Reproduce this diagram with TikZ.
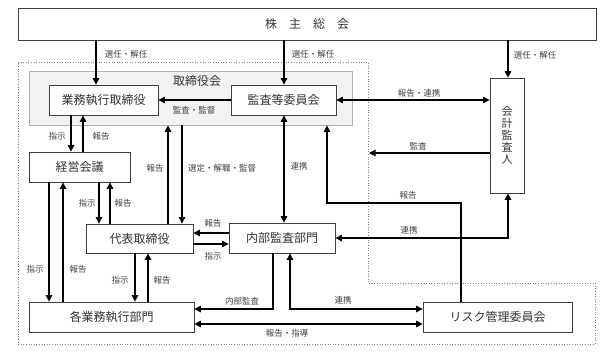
\documentclass[tikz,border=0pt]{standalone}
\usepackage{fontspec}
\setmainfont{Noto Sans CJK JP}
\usetikzlibrary{arrows.meta}

\begin{document}
\begin{tikzpicture}[
    x=1pt, y=-1pt,
    box/.style={
        rectangle,
        draw=black!75,
        line width=0.8pt,
        fill=white,
        minimum height=30pt,
        inner sep=0pt,
        font=\fontsize{12}{14}\selectfont,
        text=black!80
    },
    board/.style={
        rectangle,
        draw=gray!60,
        line width=0.8pt,
        fill=gray!10
    },
    lbl/.style={font=\fontsize{8.5}{10}\selectfont, text=black!75, inner sep=1pt},
    arrow/.style={-{Triangle[length=6.5pt,width=6.5pt]}, line width=1.1pt},
    twoway/.style={{Triangle[length=6.5pt,width=6.5pt]}-{Triangle[length=6.5pt,width=6.5pt]}, line width=1.1pt}
]
\useasboundingbox (0,0) rectangle (610,357);

% group boundary
\draw[gray, dotted, line width=0.6pt] (18,62) -- (368,62) -- (368,283) -- (595,283)
    -- (595,344) -- (18,344) -- cycle;

\node[board, minimum width=323pt, minimum height=54pt] (kai) at (190.5,98) {};
\node[font=\fontsize{12}{14}\selectfont, text=black!80] (kainame) at (197,81) {取締役会};

\node[box, minimum width=578pt, minimum height=32pt] (soukai) at (307,24) {株　主　総　会};
\node[box, minimum width=109pt] (gyomu) at (103.5,100) {業務執行取締役};
\node[box, minimum width=105pt] (kansa) at (283.5,100) {監査等委員会};
\node[box, minimum width=101pt] (keiei) at (79.5,167) {経営会議};
\node[box, minimum width=107pt, minimum height=29pt] (daihyo) at (139.5,238.5) {代表取締役};
\node[box, minimum width=106pt] (naibu) at (282,238) {内部監査部門};
\node[box, minimum width=165pt] (kakubu) at (111.5,317) {各業務執行部門};
\node[box, minimum width=149pt] (risk) at (497.5,317) {リスク管理委員会};
\node[box, minimum width=34pt, minimum height=115pt, align=center,
    font=\fontsize{11}{12}\selectfont] (kaikei) at (507,135.5) {会\\計\\監\\査\\人};

% arrow positions
\coordinate (xSelG) at (96,0);
\coordinate (xSelK) at (284,0);
\coordinate (xSelA) at (508,0);
\coordinate (xGK1) at (71,0);
\coordinate (xGK2) at (83,0);
\coordinate (xKD1) at (99,0);
\coordinate (xKD2) at (110,0);
\coordinate (xDB1) at (168,0);
\coordinate (xDB2) at (182,0);
\coordinate (xKB1) at (49,0);
\coordinate (xKB2) at (63,0);
\coordinate (xDK1) at (135,0);
\coordinate (xDK2) at (148,0);
\coordinate (yND1) at (0,233);
\coordinate (yND2) at (0,244);
\coordinate (yShido) at (0,324);
\coordinate (nbAudit) at (273,309);
\coordinate (nbRisk) at (290,309);
\coordinate (xRisk) at (461,0);
\coordinate (riskTurn) at (327,203);
\coordinate (kansaEnd) at (369,153);

\draw[arrow] (soukai.south -| xSelG) -- (gyomu.north -| xSelG);
\draw[arrow] (soukai.south -| xSelK) -- (kansa.north -| xSelK);
\draw[arrow] (soukai.south -| xSelA) -- (kaikei.north -| xSelA);
\draw[arrow] (kansa.west) -- (gyomu.east);
\draw[twoway] (kansa.east) -- (kansa.east -| kaikei.west);
\draw[arrow] (kaikei.west |- kansaEnd) -- (kansaEnd);

\draw[arrow] (gyomu.south -| xGK1) -- (keiei.north -| xGK1);
\draw[arrow] (keiei.north -| xGK2) -- (gyomu.south -| xGK2);
\draw[arrow] (keiei.south -| xKD1) -- (daihyo.north -| xKD1);
\draw[arrow] (daihyo.north -| xKD2) -- (keiei.south -| xKD2);
\draw[arrow] (daihyo.north -| xDB1) -- (kai.south -| xDB1);
\draw[arrow] (kai.south -| xDB2) -- (daihyo.north -| xDB2);
\draw[twoway] (kansa.south -| xSelK) -- (naibu.north -| xSelK);

\draw[arrow] (naibu.west |- yND1) -- (daihyo.east |- yND1);
\draw[arrow] (daihyo.east |- yND2) -- (naibu.west |- yND2);
\draw[arrow] (keiei.south -| xKB1) -- (kakubu.north -| xKB1);
\draw[arrow] (kakubu.north -| xKB2) -- (keiei.south -| xKB2);
\draw[arrow] (daihyo.south -| xDK1) -- (kakubu.north -| xDK1);
\draw[arrow] (kakubu.north -| xDK2) -- (daihyo.south -| xDK2);

\draw[arrow] (naibu.south -| nbAudit) |- (kakubu.east |- nbAudit);
\draw[twoway] (naibu.south -| nbRisk) |- (risk.west |- nbRisk);
\draw[twoway] (kakubu.east |- yShido) -- (risk.west |- yShido);
\draw[arrow] (risk.north -| xRisk) |- (riskTurn) -- (kai.south -| riskTurn);
\draw[twoway] (kaikei.south -| xSelA) |- (naibu.east);

% labels
\node[lbl] (lSelG) at (126,54) {選任・解任};
\node[lbl] (lSelK) at (313,54) {選任・解任};
\node[lbl] (lSelA) at (535,55) {選任・解任};
\node[lbl] (lKansa) at (194,110) {監査・監督};
\node[lbl] (lRenkei1) at (419,93) {報告・連携};
\node[lbl] (lAudit) at (418,146) {監査};
\node[lbl] (lGK1) at (57,136) {指示};
\node[lbl] (lGK2) at (101,136) {報告};
\node[lbl] (lKD1) at (87,203) {指示};
\node[lbl] (lKD2) at (123,203) {報告};
\node[lbl] (lDB1) at (155,168) {報告};
\node[lbl] (lDB2) at (222,168) {選定・解職・監督};
\node[lbl] (lRenkei2) at (299,166) {連携};
\node[lbl] (lND1) at (213,223) {報告};
\node[lbl] (lND2) at (213,256) {指示};
\node[lbl] (lKB1) at (35,269) {指示};
\node[lbl] (lKB2) at (78,269) {報告};
\node[lbl] (lDK1) at (120,280) {指示};
\node[lbl] (lDK2) at (162,280) {報告};
\node[lbl] (lAudit2) at (242,301) {内部監査};
\node[lbl] (lRenkei3) at (343,300) {連携};
\node[lbl] (lShido) at (287,333) {報告・指導};
\node[lbl] (lReport) at (408,195) {報告};
\node[lbl] (lRenkei4) at (409,230) {連携};

\end{tikzpicture}
\end{document}
